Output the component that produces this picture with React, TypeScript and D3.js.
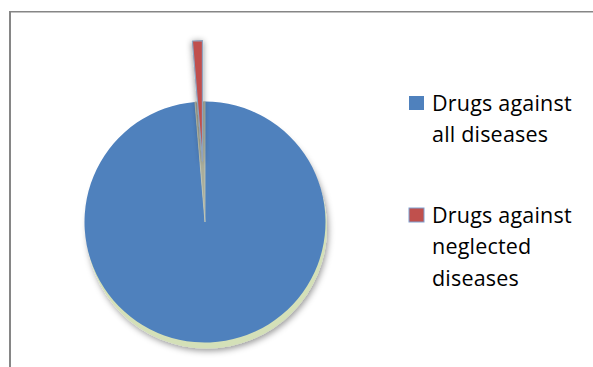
import React from "react";
import * as d3 from "d3";

// Slice data: new drugs marketed, all diseases vs. neglected diseases
const categories: string[] = ["Drugs against all diseases", "Drugs against neglected diseases"];
const values: number[] = [1556, 21];
const colors: string[] = ["#4f81bd", "#c0504d"];
// Legend labels broken into lines
const legendLines: string[][] = [
  ["Drugs against", "all diseases"],
  ["Drugs against", "neglected", "diseases"],
];
// Which slices are pulled out from the centre
const explode: number[] = [0, 61];

const W = 593;
const H = 367;
const cx = 205;
const cy = 222;
const R = 120.5;

export default function App() {
  const pie = d3
    .pie<number>()
    .sort(null)
    .startAngle(0)
    .endAngle(2 * Math.PI)
    .value((d) => d);
  const arcs = pie(values);
  const arc = d3.arc<d3.PieArcDatum<number>>().innerRadius(0).outerRadius(R);

  const offset = (a: d3.PieArcDatum<number>, d: number) => {
    const mid = (a.startAngle + a.endAngle) / 2;
    return [Math.sin(mid) * d, -Math.cos(mid) * d];
  };

  const legendX = 409;
  const legendTextX = 432;
  const legendTops = [96, 208];
  const lineGap = 31.7;

  return (
    <div style={{ position: "fixed", left: 0, top: 0, width: W, height: H, overflow: "hidden" }}>
      <svg width={W} height={H} style={{ display: "block", background: "#fff" }}>
        <defs>
          <filter id="pieShadow" x="-20%" y="-20%" width="140%" height="140%">
            <feDropShadow dx="1.5" dy="2.5" stdDeviation="3" floodColor="#000" floodOpacity="0.4" />
          </filter>
          <filter id="sliceShadow" x="-100%" y="-20%" width="300%" height="140%">
            <feDropShadow dx="0" dy="1" stdDeviation="3" floodColor="#000" floodOpacity="0.45" />
          </filter>
        </defs>

        {/* chart frame: left and top edges, the rest runs off the page */}
        <line x1={10} y1={11.75} x2={10} y2={H} stroke="#868686" strokeWidth={2} />
        <line x1={9} y1={11.75} x2={W} y2={11.75} stroke="#868686" strokeWidth={1.5} />

        {/* pie base rim with shadow */}
        <circle cx={cx + 1.5} cy={cy + 6} r={R} fill="#d4e0b8" filter="url(#pieShadow)" />

        {arcs.map((a, i) => {
          if (explode[i] === 0) {
            return <path key={i} d={arc(a) ?? ""} transform={`translate(${cx},${cy})`} fill={colors[i]} />;
          }
          return (
            <path
              key={i}
              d={arc(a) ?? ""}
              transform={`translate(${cx},${cy})`}
              fill="#a9ad9b"
              stroke="#c4c8b8"
              strokeWidth={0.8}
            />
          );
        })}

        {arcs.map((a, i) => {
          if (explode[i] === 0) return null;
          const [dx, dy] = offset(a, explode[i]);
          return (
            <path
              key={"e" + i}
              d={arc(a) ?? ""}
              transform={`translate(${cx + dx},${cy + dy})`}
              fill={colors[i]}
              stroke="#8fa3bf"
              strokeWidth={1.2}
              strokeLinejoin="round"
              filter="url(#sliceShadow)"
            />
          );
        })}

        {/* legend */}
        {categories.map((c, i) => (
          <g key={c}>
            <rect
              x={legendX}
              y={legendTops[i]}
              width={15}
              height={14}
              fill={colors[i]}
              stroke={i === 1 ? "#7f9fcf" : "none"}
              strokeWidth={1}
            />
            <text
              x={legendTextX}
              y={legendTops[i] + 14.5}
              fontFamily="'Open Sans', sans-serif"
              fontSize={21.5}
              letterSpacing={0.2}
              fill="#000"
            >
              {legendLines[i].map((ln, j) => (
                <tspan key={j} x={legendTextX} dy={j === 0 ? 0 : lineGap}>
                  {ln}
                </tspan>
              ))}
            </text>
          </g>
        ))}
      </svg>
    </div>
  );
}
